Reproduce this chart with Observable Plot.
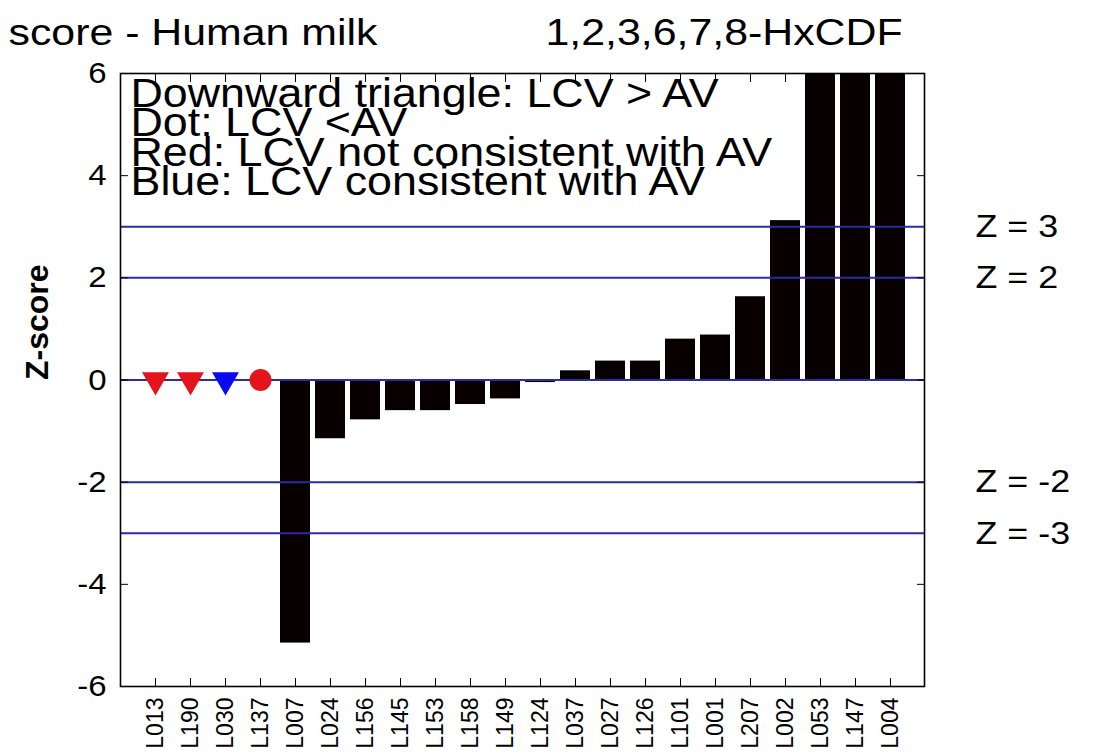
<!DOCTYPE html>
<html>
<head>
<meta charset="utf-8">
<script src="https://cdn.jsdelivr.net/npm/d3@7"></script>
<script src="https://cdn.jsdelivr.net/npm/@observablehq/plot@0.6"></script>
<style>
  body { margin: 0; background: #fff; }
</style>
</head>
<body>
<div id="chart"></div>
<script>
// ---- data ----
const categories = ["L013","L190","L030","L137","L007","L024","L156","L145","L153","L158","L149","L124","L037","L027","L126","L101","L001","L207","L002","L053","L147","L004"];

const barLabels = ["L007","L024","L156","L145","L153","L158","L149","L124","L037","L027","L126","L101","L001","L207","L002","L053","L147","L004"];
const barValues = [-5.15,-1.15,-0.78,-0.60,-0.60,-0.48,-0.37,-0.05,0.18,0.37,0.37,0.80,0.88,1.63,3.12,7.2,8.5,9.8];

const markerLabels = ["L013","L190","L030","L137"];
const markerValues = [0,0,0,0];
const markerAboveAV = [true,true,true,false];     // triangle: LCV > AV, dot: LCV < AV
const markerConsistent = [false,false,true,false]; // blue: consistent, red: not consistent

const refLines = [3,2,0,-2,-3];
const refLabelValues = [3,2,-2,-3];
const yTicks = [-6,-4,-2,0,2,4,6];

const titleText = "score - Human milk";
const subtitleText = "1,2,3,6,7,8-HxCDF";
const yLabel = "Z-score";
const legendLines = [
  "Downward triangle: LCV > AV",
  "Dot: LCV <AV",
  "Red: LCV not consistent with AV",
  "Blue: LCV consistent with AV"
];

// ---- tables ----
const bars = barLabels.map((lab, i) => ({lab, z: barValues[i]}));
const markers = markerLabels.map((lab, i) => ({lab, z: markerValues[i], above: markerAboveAV[i], consistent: markerConsistent[i]}));

const RED = "#e3141b", BLUE = "#0a0af0", LINE = "#2b2ba6";

const chart = Plot.plot({
  width: 1096,
  height: 755,
  marginLeft: 120,
  marginRight: 172,
  marginTop: 73,
  marginBottom: 69,
  style: {fontFamily: "'Liberation Sans', Arial, sans-serif", background: "white", color: "black"},
  x: {type: "band", domain: categories, paddingInner: 0.149, paddingOuter: 0.48},
  y: {domain: [-6, 6]},
  marks: [
    Plot.barY(bars, {x: "lab", y: "z", fill: "#080000", clip: true}),
    Plot.ruleY(refLines, {stroke: LINE, strokeWidth: 2}),
    Plot.dot(markers.filter(d => d.above), {x: "lab", y: "z", symbol: "triangle", rotate: 180, r: 10,
      fill: d => d.consistent ? BLUE : RED, stroke: null}),
    Plot.dot(markers.filter(d => !d.above), {x: "lab", y: "z", symbol: "circle", r: 11,
      fill: d => d.consistent ? BLUE : RED, stroke: null}),
    Plot.frame({stroke: "black", strokeWidth: 1.6}),
    Plot.axisY({ticks: yTicks, tickSize: -8, tickPadding: 22, tickFormat: d => String(d), fontSize: 30, label: null}),
    Plot.axisY({anchor: "right", ticks: yTicks, tickSize: -8, tickFormat: () => "", label: null}),
    Plot.axisX({tickSize: -8, tickPadding: 19, tickRotate: -90, fontSize: 23, label: null}),
    Plot.axisX({anchor: "top", tickSize: -8, tickFormat: () => "", label: null}),
    Plot.text(refLabelValues, {y: d => d, text: d => `Z = ${d}`, frameAnchor: "right", dx: 51, textAnchor: "start", fontSize: 32}),
    ...legendLines.map((t, i) => Plot.text([t], {text: d => d, frameAnchor: "top-left", textAnchor: "start", lineAnchor: "top",
      dx: 10, dy: 5 + i * 29.5, fontSize: 40})),
    Plot.text([titleText], {text: d => d, frameAnchor: "top-left", textAnchor: "start", lineAnchor: "top", dx: -112, dy: -54, fontSize: 36}),
    Plot.text([subtitleText], {text: d => d, frameAnchor: "top-left", textAnchor: "start", lineAnchor: "top", dx: 425, dy: -54, fontSize: 36}),
    Plot.text([yLabel], {text: d => d, frameAnchor: "left", rotate: -90, dx: -83, fontSize: 32, fontWeight: "bold"})
  ]
});

document.getElementById("chart").append(chart);

// widen horizontal text glyphs to match the reference's wide typeface
const stretchBySize = {"36": 1.19, "40": 1.12, "32": 1.12, "30": 1.1};
d3.select(chart).selectAll("text").each(function() {
  const t = this.getAttribute("transform") || "";
  if (/rotate/.test(t)) return;
  if (this.querySelector("tspan")) return;
  let el = this, fs = null;
  while (el && el !== chart && !fs) { fs = el.getAttribute && el.getAttribute("font-size"); el = el.parentNode; }
  const K = stretchBySize[fs] || 1.1;
  const L = this.getComputedTextLength();
  if (L > 0) {
    this.setAttribute("textLength", L * K);
    this.setAttribute("lengthAdjust", "spacingAndGlyphs");
  }
});
</script>
</body>
</html>
